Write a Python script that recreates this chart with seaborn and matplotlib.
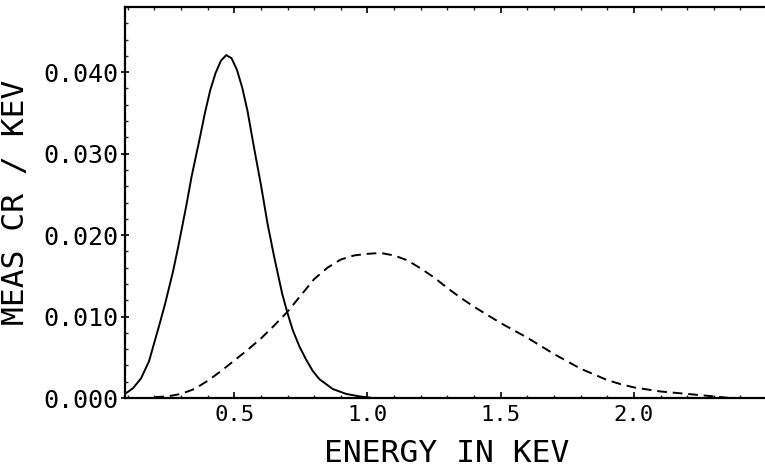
import matplotlib
matplotlib.use("Agg")
import matplotlib.pyplot as plt
from matplotlib.ticker import MultipleLocator, FormatStrFormatter
import pandas as pd
import seaborn as sns

# solid curve
solid_energy = [0.09, 0.12, 0.15, 0.18, 0.20, 0.22, 0.24, 0.27, 0.29, 0.32,
                0.34, 0.37, 0.39, 0.41, 0.43, 0.45, 0.47, 0.49, 0.51, 0.53,
                0.55, 0.575, 0.60, 0.625, 0.65, 0.68, 0.70, 0.72, 0.745, 0.77,
                0.795, 0.82, 0.87, 0.92, 0.97, 1.02, 1.50, 2.00, 2.50]
solid_rate = [0.0005, 0.0012, 0.0024, 0.0045, 0.0068, 0.0091, 0.0115, 0.0155, 0.0186, 0.0236,
              0.0272, 0.0318, 0.0350, 0.0378, 0.0399, 0.0414, 0.0421, 0.0417, 0.0403, 0.0381,
              0.0352, 0.0306, 0.0262, 0.0214, 0.0173, 0.0128, 0.0104, 0.0083, 0.0063, 0.0047,
              0.0033, 0.0023, 0.0011, 0.0005, 0.0002, 0.0000, 0.0000, 0.0000, 0.0000]

# dashed curve
dashed_energy = [0.20, 0.25, 0.30, 0.35, 0.40, 0.45, 0.50, 0.55, 0.60, 0.65,
                 0.70, 0.75, 0.80, 0.85, 0.90, 0.95, 1.00, 1.05, 1.10, 1.15,
                 1.20, 1.25, 1.30, 1.35, 1.40, 1.45, 1.50, 1.55, 1.60, 1.65,
                 1.70, 1.75, 1.80, 1.85, 1.90, 1.95, 2.00, 2.10, 2.20, 2.30, 2.36]
dashed_rate = [0.0001, 0.0002, 0.0005, 0.0011, 0.0021, 0.0033, 0.0046, 0.0059, 0.0073, 0.0089,
               0.0106, 0.0126, 0.0146, 0.0160, 0.0170, 0.0175, 0.0177, 0.0178, 0.0175, 0.0169,
               0.0159, 0.0148, 0.0135, 0.0123, 0.0112, 0.0102, 0.0092, 0.0083, 0.0074, 0.0064,
               0.0054, 0.0045, 0.0036, 0.0029, 0.0022, 0.0017, 0.0013, 0.0008, 0.0005, 0.0002, 0.0000]

x_ticks = [0.5, 1.0, 1.5, 2.0]
y_ticks = [0.000, 0.010, 0.020, 0.030, 0.040]

sns.set_style("ticks")
plt.rcParams['font.family'] = ['DejaVu Sans Mono', 'DejaVu Sans']

fig = plt.figure(figsize=(7.65, 4.70), dpi=100)
ax = fig.add_axes([125 / 765, 72 / 470, 644 / 765, 391 / 470])

solid_df = pd.DataFrame({"energy": solid_energy, "rate": solid_rate})
dashed_df = pd.DataFrame({"energy": dashed_energy, "rate": dashed_rate})
sns.lineplot(data=solid_df, x="energy", y="rate", ax=ax, color="black", linewidth=1.4,
             solid_joinstyle='round')
sns.lineplot(data=dashed_df, x="energy", y="rate", ax=ax, color="black", linewidth=1.4,
             linestyle=(0, (5, 3)))

ax.set_xlim(0.09, 2.507)
ax.set_ylim(0.0, 0.048)
ax.set_xticks(x_ticks)
ax.set_yticks(y_ticks)
ax.xaxis.set_major_formatter(FormatStrFormatter('%.1f'))
ax.yaxis.set_major_formatter(FormatStrFormatter('%.3f'))
ax.xaxis.set_minor_locator(MultipleLocator(0.1))
ax.yaxis.set_minor_locator(MultipleLocator(0.002))

for s in ax.spines.values():
    s.set_linewidth(1.6)
    s.set_color("black")
ax.spines['right'].set_visible(False)

ax.tick_params(axis='x', which='major', direction='in', length=4, width=1.2,
               top=True, labelsize=16, pad=5, colors='black')
ax.tick_params(axis='x', which='minor', direction='in', length=2, width=1.0, top=True)
ax.tick_params(axis='y', which='major', direction='inout', length=6, width=1.2,
               right=True, labelsize=18, pad=2, colors='black')
ax.tick_params(axis='y', which='minor', direction='in', length=2, width=1.0, right=False)

ax.set_xlabel("ENERGY IN KEV", fontsize=22.5, color='black')
ax.set_ylabel("MEAS CR / KEV", fontsize=22.5, color='black')
ax.xaxis.set_label_coords(0.5, -0.105)
ax.yaxis.set_label_coords(-0.148, 0.5)

fig.savefig("out.png", dpi=100)
plt.close(fig)
